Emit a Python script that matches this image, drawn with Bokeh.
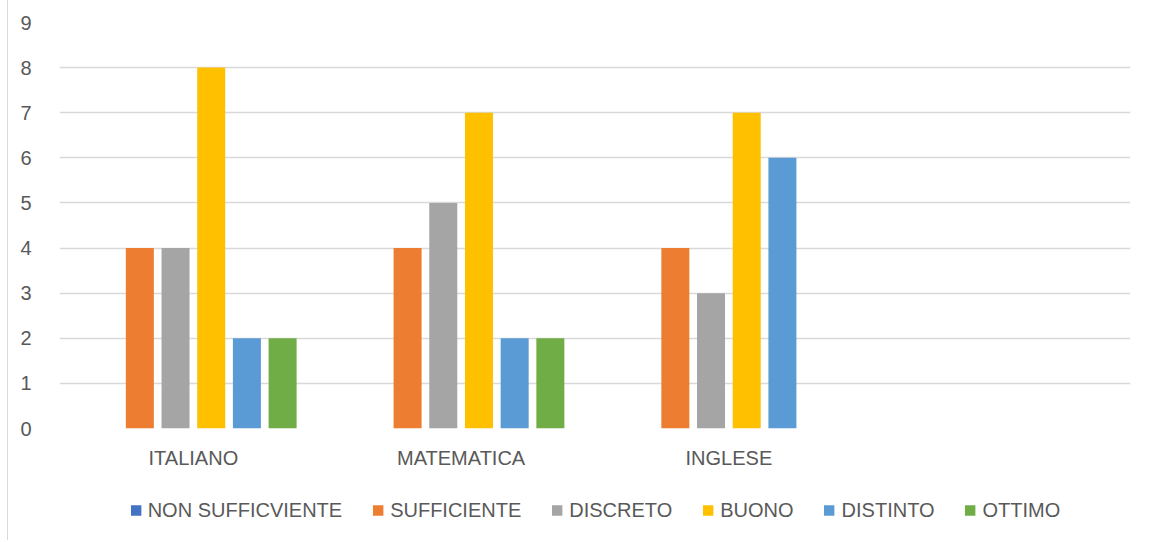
from bokeh.plotting import figure
from bokeh.models import ColumnDataSource, FixedTicker, Legend, LegendItem
from bokeh.layouts import column
from bokeh.transform import dodge
from bokeh.embed import file_html
from bokeh.resources import INLINE

categories = ["ITALIANO", "MATEMATICA", "INGLESE", ""]
series_names = ["NON SUFFICVIENTE", "SUFFICIENTE", "DISCRETO", "BUONO", "DISTINTO", "OTTIMO"]
non_sufficiente = [0, 0, 0, 0]
sufficiente = [4, 4, 4, 0]
discreto = [4, 5, 3, 0]
buono = [8, 7, 7, 0]
distinto = [2, 2, 6, 0]
ottimo = [2, 2, 0, 0]
y_ticks = [0, 1, 2, 3, 4, 5, 6, 7, 8, 9]

series_values = [non_sufficiente, sufficiente, discreto, buono, distinto, ottimo]
colors = ["#4472C4", "#ED7D31", "#A5A5A5", "#FFC000", "#5B9BD5", "#70AD47"]

FONT = "Liberation Sans"
FS = "20px"
TXT = "#595959"
GRID = "#d9d9d9"

p = figure(width=1142, height=476, output_backend="svg", toolbar_location=None,
           x_range=(0, len(categories)), y_range=(0, 9),
           min_border_left=51, min_border_right=20, min_border_top=22, min_border_bottom=48)
p.outline_line_color = None

# legend strip: same bars, drawn outside its visible y range, so only the legend shows
p2 = figure(width=1142, height=64, output_backend="svg", toolbar_location=None,
            x_range=p.x_range, y_range=(100, 101),
            min_border_left=51, min_border_right=20, min_border_top=4, min_border_bottom=0)
p2.outline_line_color = None
p2.axis.visible = False
p2.grid.grid_line_color = None

xs = [i + 0.5 for i in range(len(categories))]
slot = 0.1333
bw = 0.1046
items = []
for k, (name, vals, col) in enumerate(zip(series_names, series_values, colors)):
    src = ColumnDataSource(dict(x=xs, top=vals))
    p.vbar(x=dodge("x", (k - 2.5) * slot), top="top", width=bw, bottom=0,
           source=src, fill_color=col, line_color=None)
    r2 = p2.vbar(x=dodge("x", (k - 2.5) * slot), top="top", width=bw, bottom=0,
                 source=src, fill_color=col, line_color=None)
    items.append(LegendItem(label=name, renderers=[r2]))

p.xaxis.ticker = FixedTicker(ticks=xs)
p.xaxis.major_label_overrides = {x: c for x, c in zip(xs, categories)}
p.yaxis.ticker = FixedTicker(ticks=y_ticks)
for ax in (p.xaxis, p.yaxis):
    ax.axis_line_color = None
    ax.major_tick_line_color = None
    ax.minor_tick_line_color = None
    ax.major_label_text_font = FONT
    ax.major_label_text_font_size = FS
    ax.major_label_text_color = TXT
p.xaxis.major_label_standoff = 12
p.yaxis.major_label_standoff = 22

p.xgrid.grid_line_color = None
p.ygrid.grid_line_color = GRID
p.ygrid.grid_line_width = 1.5

legend = Legend(items=items, orientation="horizontal", location="center",
                label_text_font=FONT, label_text_font_size=FS, label_text_color=TXT,
                glyph_width=13, glyph_height=13, label_standoff=6, spacing=29,
                border_line_color=None, background_fill_alpha=0, margin=0, padding=0)
p2.add_layout(legend, "center")

layout = column(p, p2, spacing=0)
layout.styles = {"border-left": "1px solid #d9d9d9", "margin-left": "7px"}

open("out.html", "w").write(file_html(layout, INLINE))
